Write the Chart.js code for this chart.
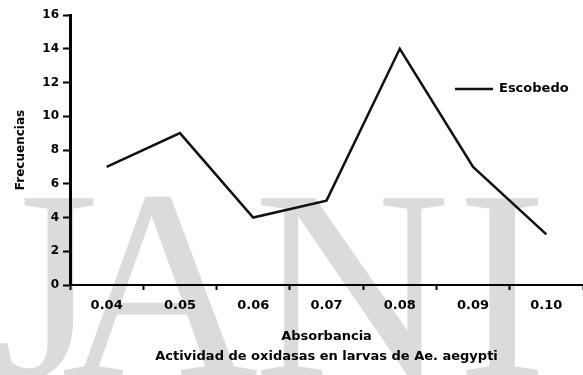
<!DOCTYPE html>
<html>
<head>
<meta charset="utf-8">
<script src="https://cdn.jsdelivr.net/npm/chart.js@4/dist/chart.umd.min.js"></script>
<style>
  html, body { margin: 0; padding: 0; background: #fff; }
  #wrap { width: 583px; height: 375px; }
</style>
</head>
<body>
<div id="wrap"><canvas id="c" width="583" height="375"></canvas></div>
<script>
// ---- data ----
const categories = ['0.04', '0.05', '0.06', '0.07', '0.08', '0.09', '0.10'];
const seriesName = 'Escobedo';
const escobedo = [7, 9, 4, 5, 14, 7, 3];
const yTicks = [0, 2, 4, 6, 8, 10, 12, 14, 16];
const yTitle = 'Frecuencias';
const xTitleLines = ['Absorbancia', 'Actividad de oxidasas en larvas de Ae. aegypti'];
const watermark = ['J', 'A', 'N', 'I'];

const FONT = 'DejaVu Sans';

const backgroundPlugin = {
  id: 'bgWatermark',
  beforeDraw(chart) {
    const ctx = chart.ctx;
    ctx.save();
    ctx.fillStyle = '#ffffff';
    ctx.fillRect(0, 0, chart.width, chart.height);
    ctx.fillStyle = '#dbdbdb';
    ctx.font = '273px "Liberation Serif"';
    ctx.textAlign = 'center';
    ctx.textBaseline = 'alphabetic';
    const centers = [46, 160, 352, 502];
    watermark.forEach((ch, i) => ctx.fillText(ch, centers[i], 377));
    ctx.restore();
  }
};

const legendPlugin = {
  id: 'insideLegend',
  afterDraw(chart) {
    const ctx = chart.ctx;
    const ds = chart.data.datasets[0];
    ctx.save();
    ctx.strokeStyle = ds.borderColor;
    ctx.lineWidth = ds.borderWidth;
    ctx.beginPath();
    ctx.moveTo(455, 89);
    ctx.lineTo(493, 89);
    ctx.stroke();
    ctx.fillStyle = '#000';
    ctx.font = 'bold 13px "' + FONT + '"';
    ctx.textAlign = 'left';
    ctx.textBaseline = 'middle';
    ctx.fillText(ds.label, 499, 89);
    ctx.restore();
  }
};

new Chart(document.getElementById('c'), {
  type: 'line',
  data: {
    labels: categories,
    datasets: [{
      label: seriesName,
      data: escobedo,
      borderColor: '#111111',
      borderWidth: 2.5,
      pointRadius: 0,
      tension: 0,
      fill: false
    }]
  },
  options: {
    responsive: false,
    animation: false,
    devicePixelRatio: 1,
    layout: { padding: { top: 15, right: 0, left: 0, bottom: 0 } },
    plugins: {
      legend: { display: false },
      tooltip: { enabled: false },
      title: { display: false }
    },
    scales: {
      x: {
        type: 'category',
        offset: true,
        afterFit(scale) { scale.height = 90; },
        border: { display: true, color: '#000', width: 2 },
        grid: {
          offset: true,
          drawOnChartArea: false,
          drawTicks: true,
          tickLength: 5,
          tickWidth: 2,
          tickColor: '#000',
          color: '#000'
        },
        ticks: {
          color: '#000',
          padding: 8,
          maxRotation: 0,
          autoSkip: false,
          font: { family: FONT, size: 13, weight: 'bold' }
        },
        title: {
          display: true,
          text: xTitleLines,
          color: '#000',
          font: { family: FONT, size: 13, weight: 'bold', lineHeight: 1.54 },
          padding: { top: 0, bottom: 8 }
        }
      },
      y: {
        min: 0,
        max: 16,
        afterFit(scale) { scale.width = 70; },
        afterBuildTicks(scale) { scale.ticks = yTicks.map(v => ({ value: v })); },
        border: { display: true, color: '#000', width: 3 },
        grid: {
          drawOnChartArea: false,
          drawTicks: true,
          tickLength: 7,
          tickWidth: 2,
          tickColor: '#000',
          color: '#000'
        },
        ticks: {
          color: '#000',
          padding: 4,
          font: { family: FONT, size: 12, weight: 'bold' }
        },
        title: {
          display: true,
          text: yTitle,
          color: '#000',
          font: { family: FONT, size: 12, weight: 'bold', lineHeight: 1.2 },
          padding: { top: 14, bottom: 0 }
        }
      }
    }
  },
  plugins: [backgroundPlugin, legendPlugin]
});
</script>
</body>
</html>
